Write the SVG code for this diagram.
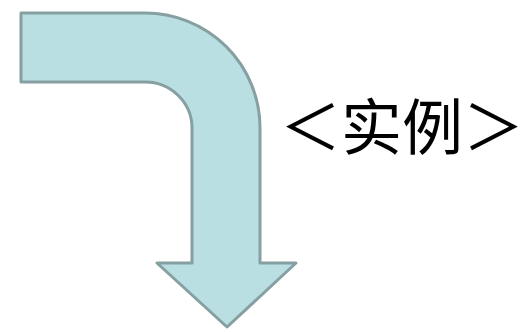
<svg xmlns="http://www.w3.org/2000/svg" width="527" height="332" viewBox="0 0 527 332">
<style>
.arrow{fill:#b9dfe3;stroke:#86a0a2;stroke-width:3;stroke-linejoin:round}
.lbl{font-family:"Noto Sans CJK SC","Noto Sans CJK JP",sans-serif;font-size:61px;fill:#000}
</style>
<g id="arrow">
<path class="arrow" d="M21,13 H145 A115,115 0 0 1 260,128 V263 H296 L227,327 L157,263 H192 V128 A47,46 0 0 0 145,82 H21 Z"/>
</g>
<g id="label">
<text class="lbl" x="280" y="150">＜实例＞</text>
</g>
</svg>
